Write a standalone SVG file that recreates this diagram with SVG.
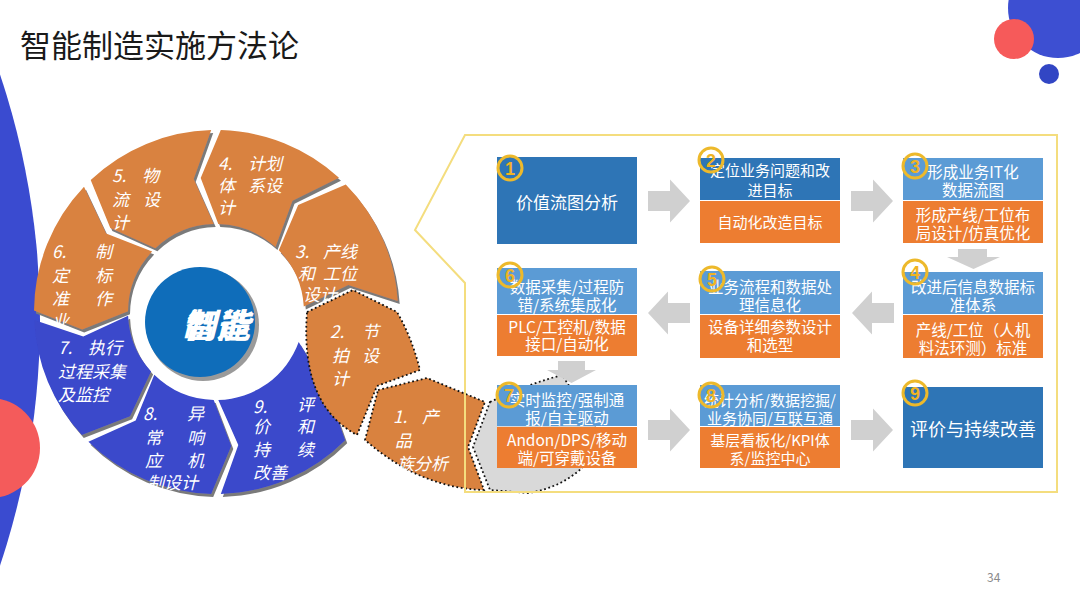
<svg xmlns="http://www.w3.org/2000/svg" width="1080" height="608" viewBox="0 0 1080 608">
<defs>
<style>
.t{font-family:"Noto Sans CJK SC","Noto Sans",sans-serif;}
.seg{font-family:"Noto Sans CJK SC",sans-serif;font-size:17px;fill:#fff;font-style:italic;}
.bx{font-family:"Noto Sans CJK SC",sans-serif;fill:#fff;text-anchor:middle;}
.or{fill:#D9823F;}
.bl{fill:#3A48CB;}
.dot{stroke:#111;stroke-width:1.8;stroke-dasharray:1.8 2.6;}
.ar{fill:#D0D0D0;}
.db{fill:#2E75B6;}
.lb{fill:#5B9BD5;}
.ob{fill:#ED7D31;}
.badge{fill:none;stroke:#EDB92B;stroke-width:3;}
.bn{font-family:"Liberation Sans",sans-serif;font-weight:bold;font-size:18px;fill:#F0B323;text-anchor:middle;}
</style>
<filter id="sh" x="-20%" y="-20%" width="140%" height="140%">
<feDropShadow dx="2" dy="3" stdDeviation="0.6" flood-color="#7a7a7a" flood-opacity="1"/>
</filter>
</defs>
<rect width="1080" height="608" fill="#fff"/>

<g id="decor">
<circle cx="-733" cy="320" r="773" fill="#3A4BD0"/>
<circle cx="-10" cy="448" r="50" fill="#F45B5B"/>
<circle cx="1058" cy="8" r="50" fill="#3D4FD2"/>
<circle cx="1014" cy="39" r="20" fill="#F65A5A"/>
<circle cx="1049" cy="74" r="10" fill="#3246C4"/>
</g>

<text id="title" class="t" x="20" y="57" font-size="31" fill="#1a1a1a">智能制造实施方法论</text>
<text id="page" class="t" x="987" y="582" font-size="12" fill="#8a8a8a">34</text>

<g id="center">
<circle cx="203" cy="325" r="56" fill="#9a9a9a"/>
<circle cx="200" cy="322" r="55" fill="#0F6DBA"/>
<text class="t" x="216" y="338" font-size="34" font-weight="bold" font-style="italic" fill="#fff" text-anchor="middle">制造</text>
<text class="t" x="216" y="338" font-size="34" font-weight="bold" font-style="italic" fill="#fff" text-anchor="middle">智能</text>
</g>

<g id="seg3">
<path class="or" filter="url(#sh)" d="M345.8,184.4 A182,182 0 0 1 397.7,300.9 L348.3,285.1 L303.8,306.6 A88,88 0 0 0 278.8,250.3 L298.2,204.9 Z"/>
<text class="seg"><tspan x="295" y="258">3.</tspan><tspan x="323" y="258">产线</tspan><tspan x="298" y="280">和</tspan><tspan x="323" y="280">工位</tspan><tspan x="303" y="301">设计</tspan></text>
</g>
<g id="seg4">
<path class="or" filter="url(#sh)" d="M220.8,130.1 A182,182 0 0 1 339,177.8 L292.5,200.7 L275.5,247.1 A88,88 0 0 0 218.3,224 L200.7,177.9 Z"/>
<text class="seg"><tspan x="218" y="170">4.</tspan><tspan x="248" y="170">计划</tspan><tspan x="218" y="192">体</tspan><tspan x="248" y="192">系设</tspan><tspan x="218" y="214">计</tspan></text>
</g>
<g id="seg5">
<path class="or" filter="url(#sh)" d="M90.7,180 A182,182 0 0 1 211.2,130.1 L193.7,178.9 L213.7,224 A88,88 0 0 0 155.4,248.2 L110.3,228 Z"/>
<text class="seg"><tspan x="112" y="182">5.</tspan><tspan x="142" y="182">物</tspan><tspan x="112" y="206">流</tspan><tspan x="143" y="206">设</tspan><tspan x="112" y="229">计</tspan></text>
</g>
<g id="seg6">
<path class="or" filter="url(#sh)" d="M34,310.4 A182,182 0 0 1 84,186.7 L106.1,233.6 L152.2,251.4 A88,88 0 0 0 128,311.2 L82.2,329.6 Z"/>
<text class="seg"><tspan x="52" y="258">6.</tspan><tspan x="95" y="258">制</tspan><tspan x="52" y="282">定</tspan><tspan x="95" y="282">标</tspan><tspan x="52" y="305">准</tspan><tspan x="95" y="305">作</tspan><tspan x="52" y="327">业</tspan></text>
</g>
<g id="seg7">
<path class="bl" filter="url(#sh)" d="M81.8,435 A182,182 0 0 1 34.2,319.9 L83.3,336.6 L128.1,315.8 A88,88 0 0 0 151.1,371.5 L130.1,416.2 Z"/>
<text class="seg"><tspan x="58" y="354">7.</tspan><tspan x="88" y="354">执行</tspan><tspan x="58" y="378">过程采集</tspan><tspan x="58" y="401">及监控</tspan></text>
</g>
<g id="seg8">
<path class="bl" filter="url(#sh)" d="M211.2,493.9 A182,182 0 0 1 88.4,441.8 L135.7,420.5 L154.3,374.8 A88,88 0 0 0 213.7,400 L231.3,446.1 Z"/>
<text class="seg"><tspan x="143" y="420">8.</tspan><tspan x="187" y="420">异</tspan><tspan x="145" y="444">常</tspan><tspan x="187" y="444">响</tspan><tspan x="145" y="467">应</tspan><tspan x="187" y="467">机</tspan><tspan x="147" y="489">制设计</tspan></text>
</g>
<g id="seg9">
<path class="bl" filter="url(#sh)" d="M345.2,440.2 A182,182 0 0 1 220.8,493.9 L238.3,445.1 L218.3,400 A88,88 0 0 0 298.7,342.1 L326,386 Z"/>
<text class="seg"><tspan x="253" y="413">9.</tspan><tspan x="297" y="411">评</tspan><tspan x="253" y="433">价</tspan><tspan x="297" y="433">和</tspan><tspan x="253" y="456">持</tspan><tspan x="297" y="456">续</tspan><tspan x="253" y="479">改善</tspan></text>
</g>
<g id="seg2">
<path class="or dot" d="M307,312 L353,290 L397,312 Q412,338 420,370 L377,386 L357,435 Q300,405 307,312 Z"/>
<text class="seg"><tspan x="330" y="338">2.</tspan><tspan x="362" y="338">节</tspan><tspan x="332" y="362">拍</tspan><tspan x="362" y="362">设</tspan><tspan x="332" y="385">计</tspan></text>
</g>
<g id="callout">
<path d="M490,402 Q525,385 562,375 L605,440 L582,468 Q560,488 528,493 L490,490 L473,447 Z" fill="#D9D9D9" class="dot"/>
</g>
<g id="seg1">
<path class="or dot" d="M378,390 L427,378 L485,402 L468,447 L484,490 Q420,488 365,440 Z"/>
<text class="seg"><tspan x="393" y="423">1.</tspan><tspan x="422" y="423">产</tspan><tspan x="395" y="447">品</tspan><tspan x="397" y="470">族分析</tspan></text>
</g>

<path id="frame" d="M465,135 H1057 V492 H465 V283 L415,230 Z" fill="none" stroke="#F4DD7E" stroke-width="2"/>

<g id="connectors">
<path class="ar" d="M648,191 H670 V179.5 L690,201 L670,222.5 V211 H648 Z"/>
<path class="ar" d="M851,191 H873 V179.5 L893,201 L873,222.5 V211 H851 Z"/>
<path class="ar" d="M958,249 H987 V257 H1000 L973.5,269 L947,257 H958 Z"/>
<path class="ar" d="M894,303 H872 V291.5 L852,313 L872,334.5 V323 H894 Z"/>
<path class="ar" d="M690,303 H668 V291.5 L648,313 L668,334.5 V323 H690 Z"/>
<path class="ar" d="M558,361 H585 V370 H596 L571.5,383 L547,370 H558 Z"/>
<path class="ar" d="M648,420 H670 V408.5 L690,430 L670,451.5 V440 H648 Z"/>
<path class="ar" d="M851,420 H873 V408.5 L893,430 L873,451.5 V440 H851 Z"/>
</g>

<g id="box1">
<rect class="db" x="497" y="157" width="140" height="87"/>
<text class="bx" x="567" y="209" font-size="17">价值流图分析</text>
<circle class="badge" cx="510" cy="168" r="12"/><text class="bn" x="510" y="174.5">1</text>
</g>
<g id="box2">
<rect class="db" x="700" y="158" width="140" height="42"/>
<rect class="ob" x="700" y="201" width="140" height="42"/>
<text class="bx" font-size="15"><tspan x="770" y="176">定位业务问题和改</tspan><tspan x="770" y="196">进目标</tspan><tspan x="770" y="228">自动化改造目标</tspan></text>
<circle class="badge" cx="711" cy="160" r="12"/><text class="bn" x="711" y="166.5">2</text>
</g>
<g id="box3">
<rect class="lb" x="903" y="158" width="140" height="42"/>
<rect class="ob" x="903" y="201" width="140" height="42"/>
<text class="bx" font-size="15.5"><tspan x="973" y="178">形成业务IT化</tspan><tspan x="973" y="196">数据流图</tspan><tspan x="973" y="221">形成产线/工位布</tspan><tspan x="973" y="239">局设计/仿真优化</tspan></text>
<circle class="badge" cx="915" cy="166" r="12"/><text class="bn" x="915" y="172.5">3</text>
</g>
<g id="box4">
<rect class="lb" x="903" y="272" width="140" height="42"/>
<rect class="ob" x="903" y="315" width="140" height="43"/>
<text class="bx" font-size="15.5"><tspan x="973" y="293">改进后信息数据标</tspan><tspan x="973" y="311">准体系</tspan><tspan x="973" y="336">产线/工位（人机</tspan><tspan x="973" y="354">料法环测）标准</tspan></text>
<circle class="badge" cx="915" cy="272" r="12"/><text class="bn" x="915" y="278.5">4</text>
</g>
<g id="box5">
<rect class="lb" x="700" y="271" width="140" height="43"/>
<rect class="ob" x="700" y="315" width="140" height="43"/>
<text class="bx" font-size="15.5"><tspan x="770" y="293">业务流程和数据处</tspan><tspan x="770" y="311">理信息化</tspan><tspan x="770" y="333">设备详细参数设计</tspan><tspan x="770" y="351">和选型</tspan></text>
<circle class="badge" cx="712" cy="279" r="12"/><text class="bn" x="712" y="285.5">5</text>
</g>
<g id="box6">
<rect class="lb" x="497" y="268" width="140" height="46"/>
<rect class="ob" x="497" y="315" width="140" height="41"/>
<text class="bx" font-size="15.5"><tspan x="567" y="293">数据采集/过程防</tspan><tspan x="567" y="311">错/系统集成化</tspan><tspan x="567" y="333">PLC/工控机/数据</tspan><tspan x="567" y="350">接口/自动化</tspan></text>
<circle class="badge" cx="510" cy="275" r="12"/><text class="bn" x="510" y="281.5">6</text>
</g>
<g id="box7">
<rect class="lb" x="497" y="385" width="140" height="41"/>
<rect class="ob" x="497" y="427" width="140" height="41"/>
<text class="bx" font-size="15.5"><tspan x="567" y="406">实时监控/强制通</tspan><tspan x="567" y="424">报/自主驱动</tspan><tspan x="567" y="446">Andon/DPS/移动</tspan><tspan x="567" y="464">端/可穿戴设备</tspan></text>
<circle class="badge" cx="509" cy="395" r="12"/><text class="bn" x="509" y="401.5">7</text>
</g>
<g id="box8">
<rect class="lb" x="700" y="385" width="140" height="41"/>
<rect class="ob" x="700" y="427" width="140" height="41"/>
<text class="bx" font-size="15"><tspan x="770" y="406">统计分析/数据挖掘/</tspan><tspan x="770" y="424">业务协同/互联互通</tspan><tspan x="770" y="446">基层看板化/KPI体</tspan><tspan x="770" y="464">系/监控中心</tspan></text>
<circle class="badge" cx="711" cy="395" r="12"/><text class="bn" x="711" y="401.5">8</text>
</g>
<g id="box9">
<rect class="db" x="903" y="387" width="140" height="81"/>
<text class="bx" x="973" y="436" font-size="18">评价与持续改善</text>
<circle class="badge" cx="915" cy="393" r="12"/><text class="bn" x="915" y="399.5">9</text>
</g>
</svg>
